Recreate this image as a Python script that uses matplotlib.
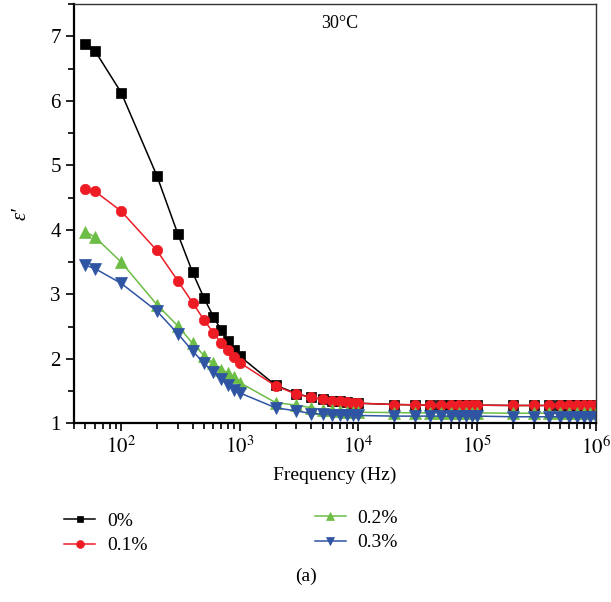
import numpy as np
import matplotlib
matplotlib.use("Agg")
import matplotlib.pyplot as plt
from matplotlib.ticker import LogLocator, MultipleLocator, FuncFormatter, NullFormatter

plt.rcParams['font.family'] = ['Liberation Serif', 'DejaVu Serif']
plt.rcParams['mathtext.fontset'] = 'stix'

# frecuencias (Hz)
freq = [50, 60, 100, 200, 300, 400, 500, 600, 700, 800, 900,
        1e3, 2e3, 3e3, 4e3, 5e3, 6e3, 7e3, 8e3, 9e3,
        1e4, 2e4, 3e4, 4e4, 5e4, 6e4, 7e4, 8e4, 9e4,
        1e5, 2e5, 3e5, 4e5, 5e5, 6e5, 7e5, 8e5, 9e5, 1e6]

eps_0 = [6.88, 6.78, 6.13, 4.84, 3.94, 3.34, 2.94, 2.65, 2.44, 2.27, 2.14,
         2.04, 1.59, 1.46, 1.40, 1.37, 1.35, 1.34, 1.33, 1.32,
         1.31, 1.29, 1.285, 1.28, 1.28, 1.28, 1.28, 1.28, 1.28,
         1.28, 1.275, 1.275, 1.275, 1.275, 1.275, 1.275, 1.275, 1.275, 1.275]
eps_01 = [4.64, 4.60, 4.29, 3.68, 3.21, 2.87, 2.60, 2.40, 2.24, 2.13, 2.02,
          1.94, 1.58, 1.45, 1.40, 1.37, 1.35, 1.34, 1.33, 1.32,
          1.31, 1.29, 1.285, 1.28, 1.28, 1.28, 1.28, 1.28, 1.28,
          1.28, 1.275, 1.275, 1.275, 1.275, 1.275, 1.275, 1.275, 1.275, 1.275]
eps_02 = [3.97, 3.89, 3.50, 2.84, 2.51, 2.24, 2.05, 1.93, 1.83, 1.78, 1.72,
          1.63, 1.32, 1.28, 1.24, 1.21, 1.20, 1.19, 1.18, 1.18,
          1.17, 1.165, 1.16, 1.16, 1.16, 1.16, 1.16, 1.16, 1.16,
          1.16, 1.155, 1.155, 1.155, 1.155, 1.155, 1.155, 1.155, 1.155, 1.155]
eps_03 = [3.45, 3.40, 3.17, 2.74, 2.39, 2.12, 1.93, 1.79, 1.68, 1.59, 1.52,
          1.47, 1.24, 1.19, 1.15, 1.14, 1.13, 1.13, 1.12, 1.12,
          1.12, 1.11, 1.11, 1.11, 1.11, 1.11, 1.11, 1.11, 1.11,
          1.11, 1.10, 1.10, 1.10, 1.10, 1.10, 1.10, 1.10, 1.10, 1.10]

labels = ['0%', '0.1%', '0.2%', '0.3%']
colors = ['#000000', '#ED1C24', '#6CBD45', '#2E54A3']
markers = ['s', 'o', '^', 'v']
msizes = [6.5, 7.5, 8, 8]

fig = plt.figure(figsize=(6.11, 6.02), dpi=100)
ax = fig.add_axes([0.121, 0.297, 0.854, 0.696])

lines = []
for y, lab, c, m, ms in zip([eps_0, eps_01, eps_02, eps_03], labels, colors, markers, msizes):
    ln, = ax.plot(freq, y, color=c, marker=m, markersize=ms, linewidth=1.1,
                  markeredgewidth=0.5, markeredgecolor=c, label=lab)
    lines.append(ln)

ax.set_xscale('log')
ax.set_xlim(40, 1e6)
ax.set_ylim(1, 7.5)
ax.xaxis.set_major_locator(LogLocator(base=10, numticks=10))
ax.xaxis.set_minor_locator(LogLocator(base=10, subs=np.arange(2, 10), numticks=20))
ax.xaxis.set_major_formatter(FuncFormatter(lambda v, p: r'$10^{%d}$' % round(np.log10(v))))
ax.xaxis.set_minor_formatter(NullFormatter())
ax.yaxis.set_major_locator(MultipleLocator(1))
ax.yaxis.set_minor_locator(MultipleLocator(0.5))

ax.tick_params(which='both', direction='out', top=False, right=False, labelsize=15, width=1.2)
ax.tick_params(which='major', length=6)
ax.tick_params(which='minor', length=4)
for s in ['left', 'bottom']:
    ax.spines[s].set_linewidth(1.6)
for s in ['top', 'right']:
    ax.spines[s].set_linewidth(1.0)
    ax.spines[s].set_color('#333333')

ax.set_xlabel('Frequency (Hz)', fontsize=14, labelpad=6)
ax.set_ylabel('ε′', fontsize=15, style='italic', labelpad=14)
ax.text(0.51, 0.975, '30°C', transform=ax.transAxes, ha='center', va='top', fontsize=13)

leg_kw = dict(frameon=False, fontsize=14, handlelength=1.6, handletextpad=0.6,
              labelspacing=0.35, borderpad=0, borderaxespad=0, loc='upper left',
              markerscale=0.75)
fig.legend(lines[:2], labels[:2], bbox_to_anchor=(0.105, 0.149), **leg_kw)
fig.legend(lines[2:], labels[2:], bbox_to_anchor=(0.515, 0.154), **leg_kw)

fig.text(0.5, 0.028, '(a)', ha='center', va='bottom', fontsize=14)

fig.savefig('out.png', dpi=100)
